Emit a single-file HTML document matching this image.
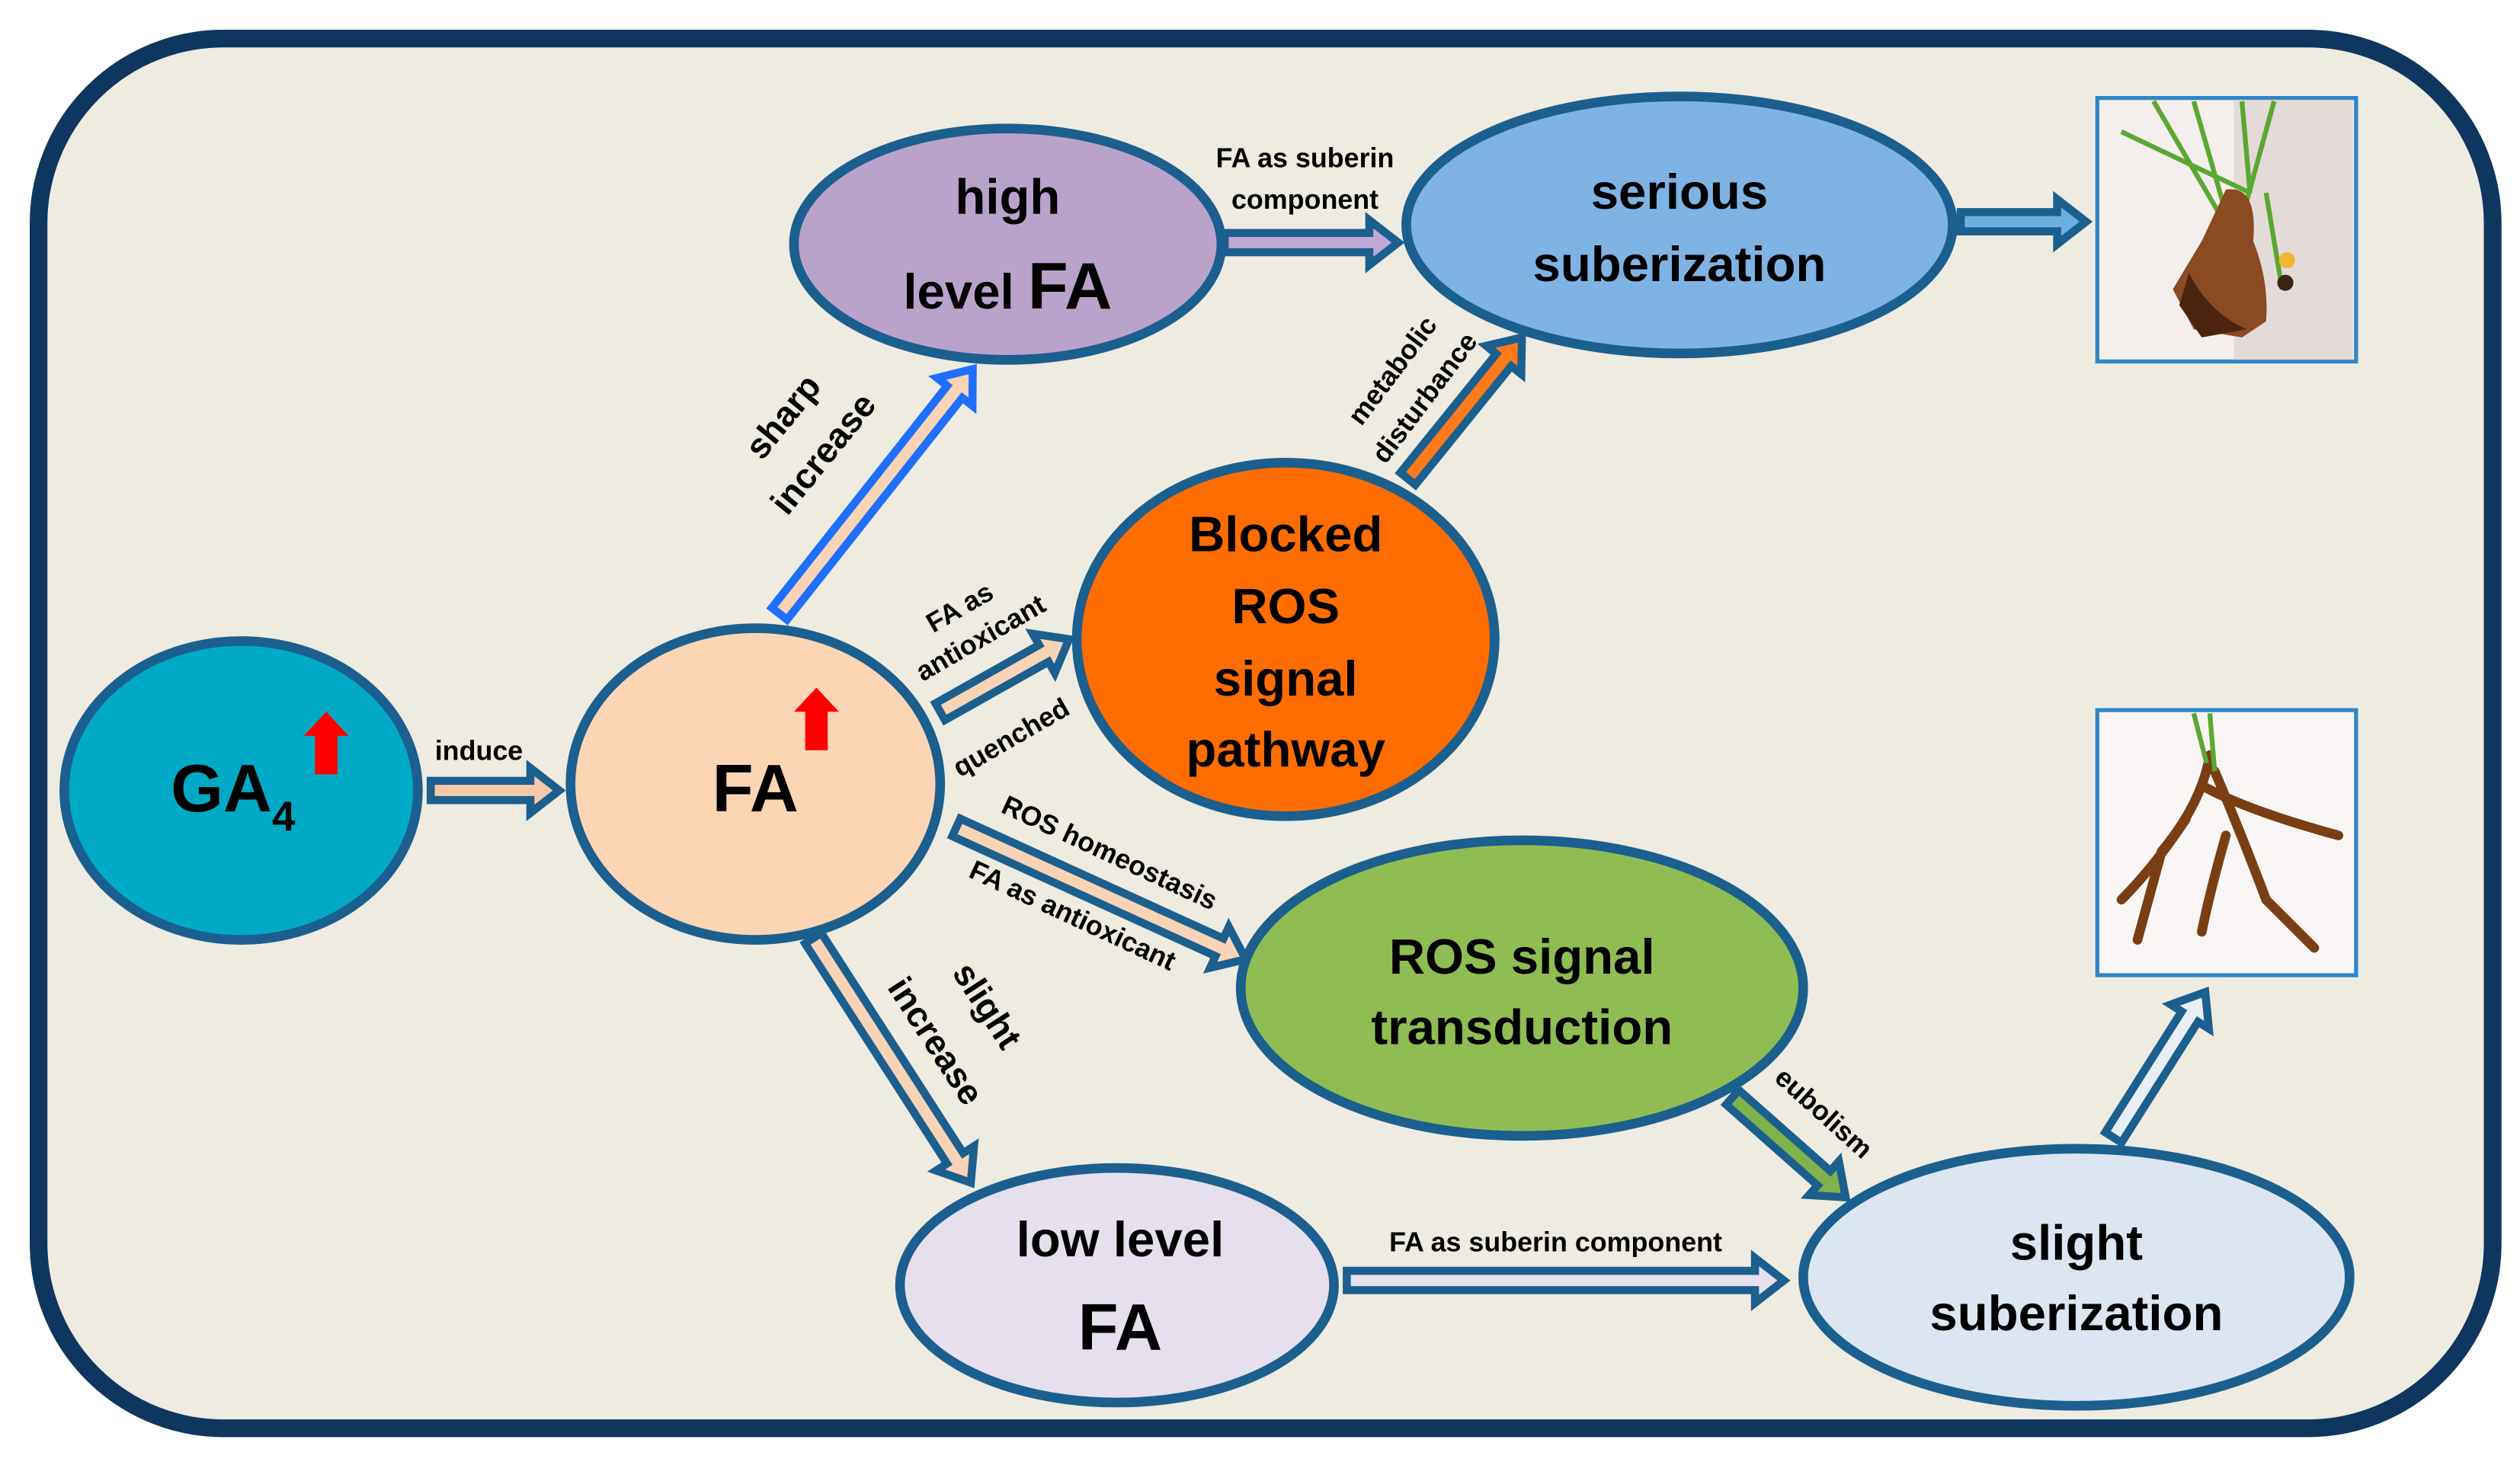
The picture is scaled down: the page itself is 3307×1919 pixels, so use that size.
<!DOCTYPE html>
<html><head><meta charset="utf-8"><style>
html,body{margin:0;padding:0;background:#fff;}
svg{display:block;}
text{font-family:"Liberation Sans",sans-serif;font-weight:bold;fill:#000;}
</style></head><body>
<svg width="3307" height="1919" viewBox="0 0 1568 910" preserveAspectRatio="none" xmlns="http://www.w3.org/2000/svg">
<defs>
<polygon id="a" points="0,-6 -18,-6 -18,-14 0,0 -18,14 -18,6"/>
</defs>
<rect width="1568" height="910" fill="#ffffff"/>
<rect x="24" y="24" width="1527" height="865" rx="115" ry="115" fill="#eeebe1" stroke="#0f365e" stroke-width="11"/>

<!-- photos -->
<g>
<rect x="1305" y="61" width="161" height="164" fill="#f4eeec" stroke="#2f86c8" stroke-width="2.5"/>
<rect x="1390" y="62" width="74" height="162" fill="#d9cfcd" opacity="0.6"/>
<g stroke="#5aa832" stroke-width="3" fill="none">
<path d="M1320 82 L1400 120"/><path d="M1340 63 L1385 140"/><path d="M1365 63 L1390 150"/><path d="M1395 63 L1400 120"/><path d="M1415 63 L1398 125"/><path d="M1410 120 L1420 180"/>
</g>
<path d="M1385 118 Q1405 115 1402 150 Q1412 175 1410 200 L1395 210 L1365 205 L1352 180 L1370 150 Z" fill="#8a4a22"/>
<path d="M1362 170 Q1375 195 1398 205 L1370 210 L1356 190 Z" fill="#4b2410"/>
<circle cx="1422" cy="176" r="5" fill="#3a2414"/><circle cx="1423" cy="162" r="5" fill="#f2b533"/>
</g>
<g>
<rect x="1305" y="442" width="161" height="165" fill="#faf6f6" stroke="#2f86c8" stroke-width="2.5"/>
<g stroke="#7a3e14" stroke-width="6" fill="none" stroke-linecap="round">
<path d="M1375 470 Q1370 500 1345 530 L1330 585"/>
<path d="M1378 480 Q1395 520 1410 560 L1440 590"/>
<path d="M1372 490 Q1400 505 1455 520"/>
<path d="M1360 510 Q1340 540 1320 560"/>
<path d="M1385 520 Q1375 555 1370 580"/>
</g>
<g stroke="#5aa832" stroke-width="3"><path d="M1375 444 L1378 480"/><path d="M1365 444 L1373 475"/></g>
</g>

<!-- arrows: shaft + head drawn as path -->
<g stroke-width="5" stroke-linejoin="miter">
<!-- induce -->
<g transform="translate(268,492)"><path d="M0,-6 H62 V-14 L80,0 L62,14 V6 H0 Z" fill="#f5c9a8" stroke="#1b5f8e"/></g>
<!-- sharp increase -->
<g transform="translate(485,382) rotate(-51.7)"><path d="M0,-6 H176 V-14 L194,0 L176,14 V6 H0 Z" fill="#f9d3b5" stroke="#1f6fff"/></g>
<!-- antioxidant -->
<g transform="translate(585,443) rotate(-29.4)"><path d="M0,-6 H74 V-14 L92,0 L74,14 V6 H0 Z" fill="#f9d3b5" stroke="#1b5f8e"/></g>
<!-- homeostasis -->
<g transform="translate(595,515) rotate(24.5)"><path d="M0,-6 H180 V-14 L198,0 L180,14 V6 H0 Z" fill="#f9d3b5" stroke="#1b5f8e"/></g>
<!-- slight increase -->
<g transform="translate(506,584) rotate(57.2)"><path d="M0,-6 H163 V-14 L181,0 L163,14 V6 H0 Z" fill="#f9d3b5" stroke="#1b5f8e"/></g>
<!-- high->serious -->
<g transform="translate(762,151)"><path d="M0,-6 H90 V-14 L108,0 L90,14 V6 H0 Z" fill="#c0a8d6" stroke="#1b5f8e"/></g>
<!-- metabolic -->
<g transform="translate(876,298) rotate(-51.1)"><path d="M0,-6 H95 V-14 L113,0 L95,14 V6 H0 Z" fill="#ff7a1a" stroke="#1b5f8e"/></g>
<!-- serious -> photo -->
<g transform="translate(1220,138)"><path d="M0,-6 H60 V-14 L78,0 L60,14 V6 H0 Z" fill="#6faee0" stroke="#1b5f8e"/></g>
<!-- eubolism -->
<g transform="translate(1078,683) rotate(41.5)"><path d="M0,-6 H76 V-14 L94,0 L76,14 V6 H0 Z" fill="#7fb24a" stroke="#1b5f8e"/></g>
<!-- low -> slight -->
<g transform="translate(838,797)"><path d="M0,-6 H254 V-14 L272,0 L254,14 V6 H0 Z" fill="#e6e0ee" stroke="#1b5f8e"/></g>
<!-- slight -> photo -->
<g transform="translate(1315,708) rotate(-57.7)"><path d="M0,-6 H89 V-14 L107,0 L89,14 V6 H0 Z" fill="#e8eef6" stroke="#1b5f8e"/></g>
</g>

<!-- nodes -->
<g stroke="#1b5f8e" stroke-width="6">
<ellipse cx="150" cy="492" rx="110" ry="93" fill="#00aac7"/>
<ellipse cx="470" cy="488" rx="115" ry="97" fill="#fcd5b5"/>
<ellipse cx="627" cy="152" rx="133" ry="72" fill="#b9a3cb"/>
<ellipse cx="1045" cy="140" rx="170" ry="80" fill="#7fb3e4"/>
<ellipse cx="800" cy="398" rx="130" ry="110" fill="#ff6d00"/>
<ellipse cx="947" cy="615" rx="175" ry="92" fill="#8fbd53"/>
<ellipse cx="695" cy="800" rx="135" ry="73" fill="#e6e0ee"/>
<ellipse cx="1292" cy="795" rx="170" ry="80" fill="#dce6f2"/>
</g>

<!-- red arrows -->
<path d="M203 443 L217 458 L210 458 L210 482 L196 482 L196 458 L189 458 Z" fill="#ff0000"/>
<path d="M508 428 L522 443 L515 443 L515 467 L501 467 L501 443 L494 443 Z" fill="#ff0000"/>

<!-- node text -->
<text x="145" y="505" font-size="42" text-anchor="middle">GA<tspan font-size="26" dy="12">4</tspan></text>
<text x="470" y="505" font-size="42" text-anchor="middle">FA</text>
<text x="627" y="133" font-size="31" text-anchor="middle">high</text>
<text x="627" y="192" font-size="31" text-anchor="middle">level <tspan font-size="41">FA</tspan></text>
<text x="1045" y="130" font-size="31" text-anchor="middle">serious</text>
<text x="1045" y="175" font-size="31" text-anchor="middle">suberization</text>
<text x="800" y="343" font-size="31" text-anchor="middle">Blocked</text>
<text x="800" y="388" font-size="31" text-anchor="middle">ROS</text>
<text x="800" y="433" font-size="31" text-anchor="middle">signal</text>
<text x="800" y="477" font-size="31" text-anchor="middle">pathway</text>
<text x="947" y="606" font-size="31" text-anchor="middle">ROS signal</text>
<text x="947" y="650" font-size="31" text-anchor="middle">transduction</text>
<text x="697" y="782" font-size="31" text-anchor="middle">low level</text>
<text x="697" y="840" font-size="41" text-anchor="middle">FA</text>
<text x="1292" y="784" font-size="31" text-anchor="middle">slight</text>
<text x="1292" y="828" font-size="31" text-anchor="middle">suberization</text>

<!-- edge labels -->
<text x="298" y="473" font-size="17" text-anchor="middle">induce</text>
<text x="812" y="104" font-size="17" text-anchor="middle">FA as suberin</text>
<text x="812" y="130" font-size="17" text-anchor="middle">component</text>
<text x="968" y="779" font-size="17" text-anchor="middle">FA as suberin component</text>
<text transform="translate(493,264) rotate(-51)" font-size="22" text-anchor="middle">sharp</text>
<text transform="translate(518,287) rotate(-51)" font-size="22" text-anchor="middle">increase</text>
<text transform="translate(600,383) rotate(-30)" font-size="17" text-anchor="middle">FA as</text>
<text transform="translate(613,402) rotate(-30)" font-size="17" text-anchor="middle">antioxicant</text>
<text transform="translate(632,464) rotate(-30)" font-size="17" text-anchor="middle">quenched</text>
<text transform="translate(688,536) rotate(25)" font-size="17" text-anchor="middle">ROS homeostasis</text>
<text transform="translate(665,575) rotate(25)" font-size="17" text-anchor="middle">FA as antioxicant</text>
<text transform="translate(608,630) rotate(57)" font-size="22" text-anchor="middle">slight</text>
<text transform="translate(576,652) rotate(57)" font-size="22" text-anchor="middle">increase</text>
<text transform="translate(871,234) rotate(-53)" font-size="17" text-anchor="middle">metabolic</text>
<text transform="translate(891,251) rotate(-53)" font-size="17" text-anchor="middle">disturbance</text>
<text transform="translate(1131,697) rotate(42)" font-size="17" text-anchor="middle">eubolism</text>
</svg>
</body></html>
